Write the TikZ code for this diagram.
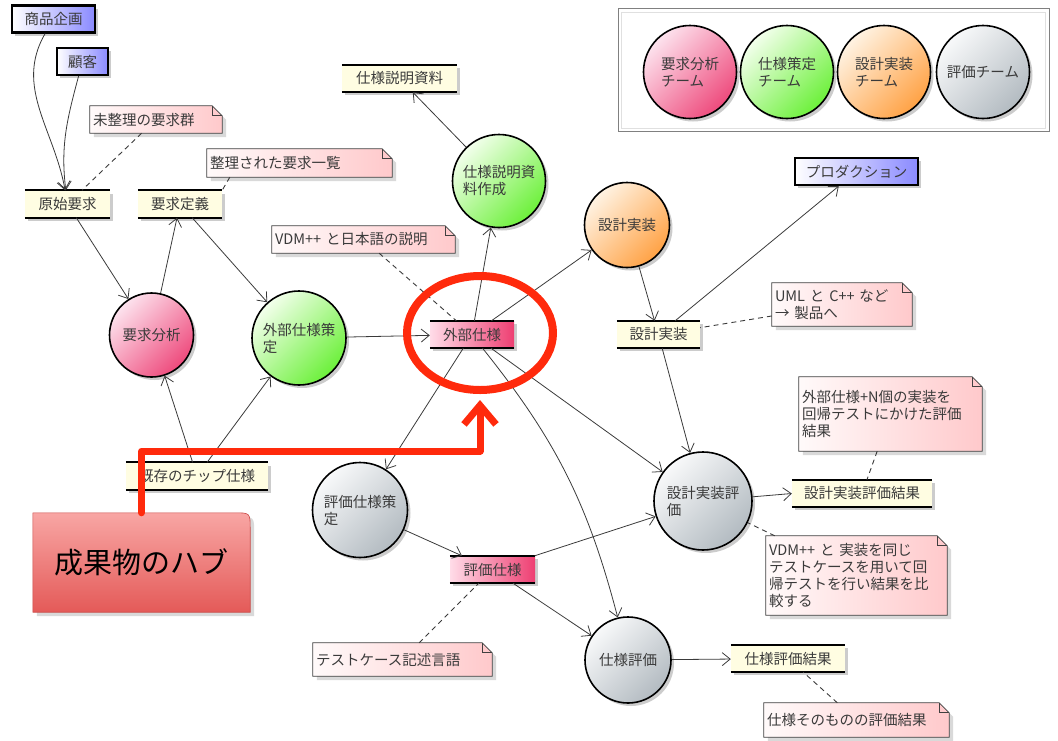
\documentclass[tikz,border=0pt]{standalone}
\usepackage{fontspec}
\setmainfont{Noto Sans CJK JP}
\usetikzlibrary{arrows.meta,shadows,shapes.geometric}
\pgfdeclarelayer{bg}
\pgfsetlayers{bg,main}
\definecolor{txtc}{HTML}{3A3A3A}
\definecolor{linec}{HTML}{3A3A3A}
\definecolor{pinkL}{HTML}{FDE3EE}
\definecolor{pinkD}{HTML}{EE4A7C}
\definecolor{greenL}{HTML}{F3FFEC}
\definecolor{greenD}{HTML}{6CF03A}
\definecolor{orangeL}{HTML}{FFF3E3}
\definecolor{orangeD}{HTML}{FFA245}
\definecolor{grayL}{HTML}{F8F9FA}
\definecolor{grayD}{HTML}{B3BBC1}
\definecolor{actorD}{HTML}{8A8AFF}
\definecolor{artY}{HTML}{FFFDE2}
\definecolor{apinkL}{HTML}{FFDCE8}
\definecolor{apinkD}{HTML}{EE3F72}
\definecolor{noteL}{HTML}{FFFAFA}
\definecolor{noteD}{HTML}{FFC9CB}
\definecolor{hubred}{HTML}{FF2A0C}
\definecolor{callT}{HTML}{F8A6A4}
\definecolor{callB}{HTML}{E45A58}
\definecolor{callE}{HTML}{C94846}
\begin{document}
\begin{tikzpicture}[x=1pt,y=-1pt,
  txt/.style={text=txtc,font=\fontsize{14.5}{17}\selectfont},
  dshadow/.style={drop shadow={shadow xshift=3pt,shadow yshift=-3pt,opacity=0.2,fill=black}},
  proc/.style={circle,draw=black,line width=1.6pt,inner sep=0pt,align=left,txt,dshadow},
  pinkproc/.style={proc,top color=pinkL,bottom color=pinkD,shading angle=45},
  greenproc/.style={proc,top color=greenL,bottom color=greenD,shading angle=45},
  orangeproc/.style={proc,top color=orangeL,bottom color=orangeD,shading angle=45},
  grayproc/.style={proc,top color=grayL,bottom color=grayD,shading angle=45},
  art/.style={rectangle,fill=artY,inner sep=0pt,minimum height=27pt,txt,dshadow},
  pinkart/.style={art,left color=apinkL,right color=apinkD},
  artline/.style={draw=black,line width=1.8pt},
  actor/.style={rectangle,draw=black,line width=2.2pt,left color=white,right color=actorD,inner sep=0pt,minimum height=27pt,txt,dshadow},
  note/.style={rectangle,inner sep=0pt,align=left,txt},
  notefill/.style={left color=noteL,right color=noteD,draw=black!75,line width=0.8pt},
  noteshadow/.style={fill=black!15},
  conn/.style={draw=linec,line width=0.8pt,-{Straight Barb[length=8pt,width=13pt]}},
  dconn/.style={draw=linec,line width=0.9pt,dash pattern=on 5pt off 4pt},
  hubring/.style={ellipse,draw=hubred,line width=8pt,minimum width=146pt,minimum height=114pt,inner sep=0pt},
  hubline/.style={draw=hubred,line width=7pt,line join=round,line cap=round,-{Straight Barb[length=19pt,width=32pt]}},
]
\useasboundingbox (0,0) rectangle (1058,740);

% legend
\node[rectangle,draw=black!50,line width=1pt,minimum width=431pt,minimum height=123pt] (legend) at (833.5,70) {};
\draw[black!12,line width=1pt] ([shift={(4pt,-4pt)}]legend.north west) rectangle ([shift={(-4pt,4pt)}]legend.south east);
\node[pinkproc,minimum size=93pt] (lg1) at (690,72) {要求分析\\チーム};
\node[greenproc,minimum size=93pt] (lg2) at (787,72) {仕様策定\\チーム};
\node[orangeproc,minimum size=93pt] (lg3) at (884,72) {設計実装\\チーム};
\node[grayproc,minimum size=93pt] (lg4) at (983,72) {評価チーム};

% actors
\node[actor,minimum width=83pt] (plan) at (53.5,19) {商品企画};
\node[actor,minimum width=51pt] (cust) at (82.5,61.5) {顧客};
\node[actor,minimum width=123pt] (prod) at (856.5,171.5) {プロダクション};

% artifacts
\node[art,minimum width=85pt] (orig) at (67.5,204) {原始要求};
\node[art,minimum width=84pt] (reqdef) at (180,204) {要求定義};
\node[art,minimum width=115pt] (specdoc) at (399.5,78.5) {仕様説明資料};
\node[pinkart,minimum width=84pt] (extspec) at (472,334.5) {外部仕様};
\node[art,minimum width=83pt] (implart) at (658.5,334.5) {設計実装};
\node[art,minimum width=142pt] (chip) at (197,476) {既存のチップ仕様};
\node[art,minimum width=140pt] (implres) at (862,493.5) {設計実装評価結果};
\node[pinkart,minimum width=85pt] (evalspec) at (492.5,569.5) {評価仕様};
\node[art,minimum width=114pt] (specres) at (788,658.5) {仕様評価結果};
\foreach \n in {orig,reqdef,specdoc,extspec,implart,chip,implres,evalspec,specres}{
  \draw[artline] (\n.north west) -- (\n.north east) (\n.south west) -- (\n.south east);
}

% processes
\node[pinkproc,minimum size=84pt] (reqan) at (151.5,335) {要求分析};
\node[greenproc,minimum size=94pt] (extdef) at (299,338) {外部仕様策\\定};
\node[greenproc,minimum size=93pt] (docgen) at (499,181) {仕様説明資\\料作成};
\node[orangeproc,minimum size=85pt] (impl) at (627,225) {設計実装};
\node[grayproc,minimum size=95pt] (evaldef) at (360,510) {評価仕様策\\定};
\node[grayproc,minimum size=98pt] (impleval) at (703,501) {設計実装評\\価};
\node[grayproc,minimum size=86pt] (speceval) at (628,660) {仕様評価};

% notes
\node[note,minimum width=132pt,minimum height=27pt,text width=126pt] (n1) at (156,119.5) {未整理の要求群};
\node[note,minimum width=185pt,minimum height=28pt,text width=179pt] (n2) at (299.5,163) {整理された要求一覧};
\node[note,minimum width=183pt,minimum height=27pt,text width=177pt] (n3) at (363.5,239.5) {VDM++ と日本語の説明};
\node[note,minimum width=140pt,minimum height=43pt,text width=134pt] (n4) at (842,304.5) {UML と C++ など\\→ 製品へ};
\node[note,minimum width=183pt,minimum height=74pt,text width=177pt] (n5) at (890.5,414) {外部仕様+N個の実装を\\回帰テストにかけた評価\\結果};
\node[note,minimum width=181pt,minimum height=79pt,text width=175pt] (n6) at (856.5,575.5) {VDM++ と 実装を同じ\\テストケースを用いて回\\帰テストを行い結果を比\\較する};
\node[note,minimum width=179pt,minimum height=33pt,text width=173pt] (n7) at (402.5,659.5) {テストケース記述言語};
\node[note,minimum width=185pt,minimum height=34pt,text width=179pt] (n8) at (856.5,720) {仕様そのものの評価結果};

% callout
\node[rectangle,minimum width=217pt,minimum height=99pt,inner sep=0pt,text=black,font=\fontsize{29}{32}\selectfont] (callout) at (141.5,562.5) {\raisebox{-5pt}{成果物のハブ}};

\begin{pgfonlayer}{bg}
\foreach \n in {n1,n2,n3,n4,n5,n6,n7,n8}{
  \fill[noteshadow] ([xshift=4pt,yshift=-4pt]\n.south west) -- ([xshift=4pt,yshift=-4pt]\n.north west) -- ([xshift=-6pt,yshift=-4pt]\n.north east) -- ([xshift=4pt,yshift=-14pt]\n.north east) -- ([xshift=4pt,yshift=-4pt]\n.south east) -- cycle;
  \shadedraw[notefill] (\n.south west) -- (\n.north west) -- ([xshift=-10pt]\n.north east) -- ([yshift=-10pt]\n.north east) -- (\n.south east) -- cycle;
  \draw[draw=black!75,line width=0.8pt] ([xshift=-10pt]\n.north east) |- ([yshift=-10pt]\n.north east);
}
\fill[black!15] ([xshift=4pt,yshift=-4pt]callout.south west) -- ([xshift=4pt,yshift=-4pt]callout.north west) -- ([xshift=-12pt,yshift=-4pt]callout.north east) .. controls ([xshift=4pt,yshift=-4pt]callout.north east) .. ([xshift=4pt,yshift=-20pt]callout.north east) -- ([xshift=4pt,yshift=-4pt]callout.south east) -- cycle;
\shadedraw[top color=callT,bottom color=callB,draw=callE,line width=0.6pt] (callout.south west) -- (callout.north west) -- ([xshift=-16pt]callout.north east) .. controls (callout.north east) .. ([yshift=-16pt]callout.north east) -- (callout.south east) -- cycle;
\end{pgfonlayer}

% connectors
\draw[conn] (plan) to[out=240,in=100] (orig);
\draw[conn] (cust) to[out=255,in=97] (orig);
\draw[conn] (orig) -- (reqan);
\draw[conn] (reqan) -- (reqdef);
\draw[conn] (reqdef) -- (extdef);
\draw[conn] (chip) -- (reqan);
\draw[conn] (chip) -- (extdef);
\draw[conn] (extdef) -- (extspec);
\draw[conn] (extspec) -- (docgen);
\draw[conn] (docgen) -- (specdoc);
\draw[conn] (extspec) -- (impl);
\draw[conn] (impl) -- (implart);
\draw[conn] (implart) -- (prod);
\draw[conn] (implart) -- (impleval);
\draw[conn] (extspec) -- (impleval);
\draw[conn] (extspec) -- (evaldef);
\draw[conn] (extspec) to[bend left=12] (speceval);
\draw[conn] (evaldef) -- (evalspec);
\draw[conn] (evalspec) -- (impleval);
\draw[conn] (evalspec) -- (speceval);
\draw[conn] (impleval) -- (implres.west);
\draw[conn] (speceval) -- (specres);

% note links
\draw[dconn] (n1) -- (orig);
\draw[dconn] ([xshift=23pt]n2.south west) -- (reqdef.north east);
\draw[dconn] (n3) -- (extspec);
\draw[dconn] (n4) -- (implart);
\draw[dconn] (n5) -- (implres);
\draw[dconn] (n6) -- (impleval);
\draw[dconn] (n7) -- (evalspec);
\draw[dconn] (n8) -- (specres);

% red hub highlight
\node[hubring] (hub) at (480,333) {};
\coordinate (hubturn) at (480,451);
\coordinate (hubtip) at ([yshift=-6pt]hub.south);
\draw[hubline] (callout.north) |- (hubturn) -- (hubtip);
\end{tikzpicture}
\end{document}
